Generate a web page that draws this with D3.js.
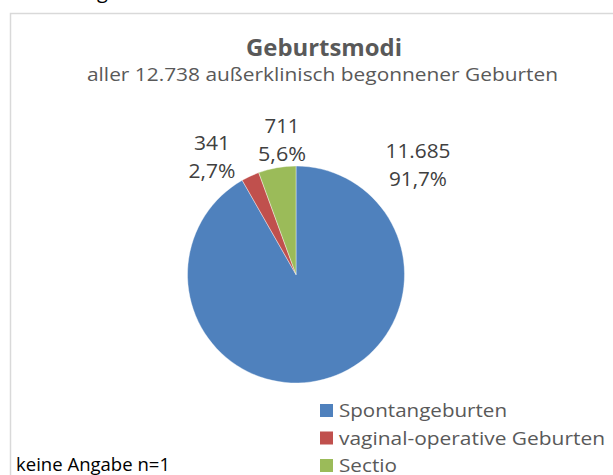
<!DOCTYPE html>
<html><head><meta charset="utf-8">
<script src="https://cdn.jsdelivr.net/npm/d3@7"></script>
<style>html,body{margin:0;padding:0;background:#fff;overflow:hidden}</style>
</head><body>
<svg id="c" width="613" height="475"></svg>
<script>
const categories = ["Spontangeburten", "vaginal-operative Geburten", "Sectio"];
const values = [11685, 341, 711];
const valueLabels = ["11.685", "341", "711"];
const percentLabels = ["91,7%", "2,7%", "5,6%"];
const colors = ["#4f81bd", "#c0504d", "#9bbb59"];
const titleText = "Geburtsmodi";
const subtitleText = "aller 12.738 außerklinisch begonnener Geburten";
const noteText = "keine Angabe n=1";

const svg = d3.select("#c");
const font = "'Open Sans', 'Noto Sans', sans-serif";

// fragment of text above the chart frame
svg.append("text").attr("x", 97).attr("y", -2).attr("font-family", font)
  .attr("font-size", 20).attr("fill", "#000").text("g");

// chart frame
svg.append("path").attr("d", "M10.5,475 V13.5 H613")
  .attr("fill", "none").attr("stroke", "#d9d9d9").attr("stroke-width", 1.5);

// title
svg.append("text").attr("x", 324).attr("y", 56).attr("text-anchor", "middle")
  .attr("font-family", font).attr("font-weight", "bold").attr("font-size", 23.5)
  .attr("fill", "#595959").attr("textLength", 156).attr("lengthAdjust", "spacingAndGlyphs")
  .text(titleText);
svg.append("text").attr("x", 322.5).attr("y", 81).attr("text-anchor", "middle")
  .attr("font-family", font).attr("font-size", 19)
  .attr("fill", "#595959").attr("textLength", 471).attr("lengthAdjust", "spacingAndGlyphs")
  .text(subtitleText);

// pie
const cx = 296, cy = 274.5, r = 108.5;
const pie = d3.pie().sort(null).value(d => d);
const arc = d3.arc().innerRadius(0).outerRadius(r);
const arcs = pie(values);
const g = svg.append("g").attr("transform", `translate(${cx},${cy})`);
g.selectAll("path").data(arcs).join("path")
  .attr("d", arc).attr("fill", (d, i) => colors[i])
  .attr("stroke", "#ffffff").attr("stroke-width", 0.4);

// data label layout (Excel "best fit" placement), relative to pie centre
const labelPos = [[122, -116.5], [-84, -124.5], [-14, -141.5]];
const lblW1 = [65, 36, 35], lblW2 = [58, 47, 48];
arcs.forEach((a, i) => {
  const lx = cx + labelPos[i][0], ly = cy + labelPos[i][1];
  const t = svg.append("text").attr("text-anchor", "middle")
    .attr("font-family", font).attr("font-size", 19.5).attr("fill", "#404040");
  t.append("tspan").attr("x", lx).attr("y", ly).text(valueLabels[i])
    .attr("textLength", lblW1[i]).attr("lengthAdjust", "spacingAndGlyphs");
  t.append("tspan").attr("x", lx).attr("y", ly + 28).text(percentLabels[i])
    .attr("textLength", lblW2[i]).attr("lengthAdjust", "spacingAndGlyphs");
});

// legend
const legW = [168, 266, 58];
const leg = svg.append("g");
categories.forEach((c, i) => {
  const y = 417 + i * 27.5;
  leg.append("rect").attr("x", 320).attr("y", y - 13).attr("width", 13).attr("height", 13)
    .attr("fill", colors[i]);
  leg.append("text").attr("x", 339).attr("y", y).attr("font-family", font)
    .attr("font-size", 19).attr("fill", "#595959")
    .attr("textLength", legW[i]).attr("lengthAdjust", "spacingAndGlyphs").text(c);
});

// note
svg.append("text").attr("x", 16).attr("y", 471).attr("font-family", font)
  .attr("font-size", 18).attr("fill", "#000")
  .attr("textLength", 154).attr("lengthAdjust", "spacingAndGlyphs").text(noteText);
</script>
</body></html>
